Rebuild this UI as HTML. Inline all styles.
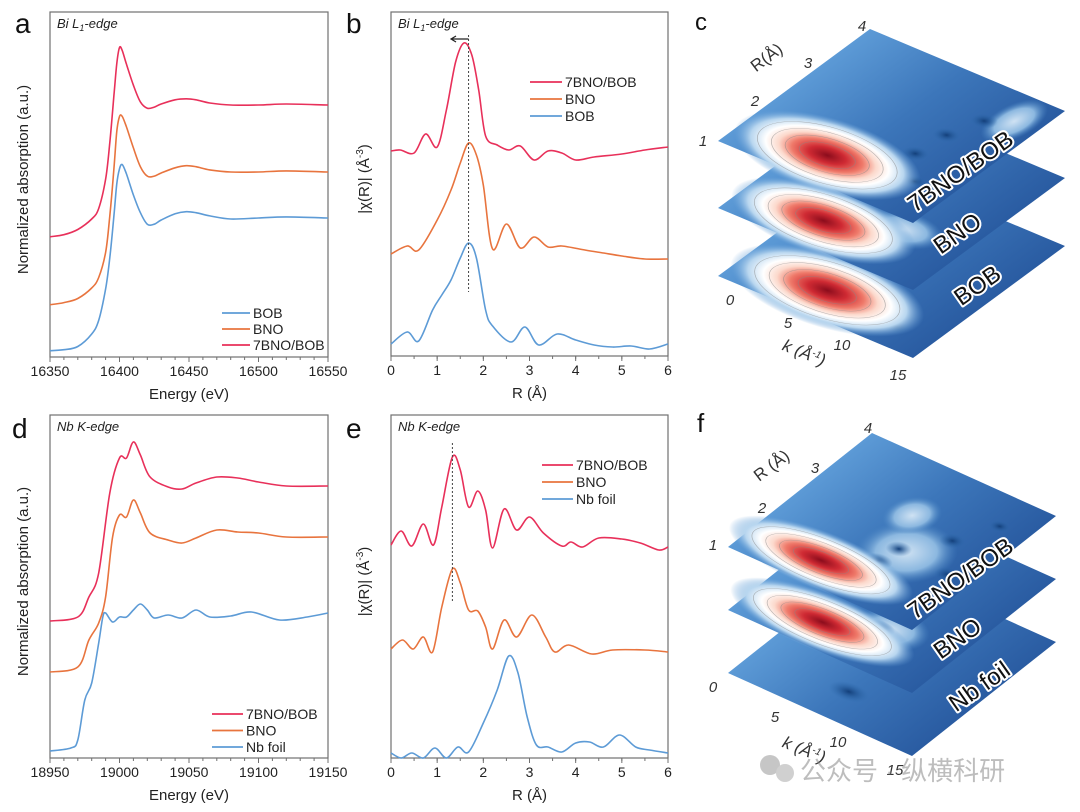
<!DOCTYPE html>
<html><head><meta charset="utf-8">
<style>
body{margin:0;background:#fff;}
svg{display:block;font-family:"Liberation Sans","Noto Sans CJK SC",sans-serif;}
.tick{font-size:14px;fill:#222;}
.lbl{font-size:28px;fill:#111;}
.ax{font-size:15px;fill:#222;}
.leg{font-size:14px;fill:#222;}
.ann{font-size:13px;font-style:italic;fill:#222;}
.pl{font-size:24px;fill:#111;stroke:#fff;stroke-width:4px;paint-order:stroke;stroke-linejoin:round;}
.tl{font-size:15px;font-style:italic;fill:#333;}
</style></head><body>
<svg id="root" width="1080" height="812" viewBox="0 0 1080 812">
<defs>
<radialGradient id="blob" cx="50%" cy="50%" r="50%">
<stop offset="0" stop-color="#8b0c1c"/><stop offset="0.2" stop-color="#cf2a33"/><stop offset="0.38" stop-color="#ef7a6a"/><stop offset="0.52" stop-color="#fcd9cc"/><stop offset="0.66" stop-color="#ffffff"/><stop offset="0.82" stop-color="#b8d6ef"/><stop offset="1" stop-color="#6aa2d8" stop-opacity="0"/>
</radialGradient>
<radialGradient id="spot" cx="50%" cy="50%" r="50%">
<stop offset="0" stop-color="#133f7a"/><stop offset="1" stop-color="#2d6aad" stop-opacity="0"/>
</radialGradient>
<radialGradient id="lite" cx="50%" cy="50%" r="50%">
<stop offset="0" stop-color="#cfe2f3"/><stop offset="0.6" stop-color="#8cb8e0"/><stop offset="1" stop-color="#4a86c4" stop-opacity="0"/>
</radialGradient>
<linearGradient id="plane" x1="0" y1="0" x2="1" y2="0">
<stop offset="0" stop-color="#5c9ad6"/><stop offset="0.5" stop-color="#3c76ba"/><stop offset="1" stop-color="#2a5ca2"/>
</linearGradient>
</defs>

<text class="lbl" x="15" y="33">a</text>
<text class="lbl" x="346" y="33">b</text>
<text class="lbl" x="695" y="30" style="font-size:24px">c</text>
<text class="lbl" x="12" y="438">d</text>
<text class="lbl" x="346" y="438">e</text>
<text class="lbl" x="697" y="432" style="font-size:26px">f</text>

<g id="gA"></g>
<g id="gB"></g>
<g id="gD"></g>
<g id="gE"></g>
<g id="gC"></g>
<g id="gF"></g>

<g opacity="0.55">
<circle cx="770" cy="765" r="10" fill="#999"/><circle cx="785" cy="773" r="9" fill="#aaa"/>
<text x="800" y="780" style="font-size:26px;fill:#888">公众号 · 纵横科研</text>
</g>
</svg>
<script>
// ---------- Panel a data ----------
const aEnergy=[16350,16360,16370,16380,16385,16390,16393,16396,16398,16400,16402,16405,16410,16415,16420,16425,16430,16440,16448,16455,16465,16480,16500,16520,16550];
const aBOB=[0.06,0.07,0.1,0.22,0.35,0.65,0.95,1.35,1.65,1.8,1.84,1.75,1.55,1.38,1.27,1.27,1.31,1.37,1.39,1.38,1.35,1.32,1.33,1.34,1.33];
const aBNO=[0.5,0.52,0.56,0.66,0.76,1.0,1.35,1.8,2.15,2.3,2.3,2.2,2.0,1.82,1.73,1.73,1.76,1.81,1.83,1.82,1.79,1.77,1.77,1.78,1.77];
const a7BNO=[1.15,1.17,1.22,1.32,1.42,1.7,2.05,2.5,2.8,2.96,2.93,2.8,2.6,2.44,2.38,2.39,2.42,2.46,2.47,2.46,2.43,2.41,2.41,2.42,2.41];
const aTicks=[16350,16400,16450,16500,16550];
// ---------- Panel b data ----------
const bR7=[0,0.2,0.5,0.75,1.0,1.2,1.4,1.58,1.75,1.9,2.05,2.3,2.55,2.8,3.1,3.4,3.7,4.0,4.4,5.0,5.5,6.0];
const b7BNO=[2.05,2.06,2.03,2.22,2.09,2.46,2.94,3.13,3.01,2.66,2.20,2.11,2.06,2.10,1.96,2.05,2.03,1.96,1.99,2.02,2.06,2.09];
const bRN=[0,0.35,0.6,1.0,1.3,1.5,1.68,1.85,2.0,2.2,2.5,2.8,3.1,3.4,3.7,4.2,4.6,5.0,5.5,6.0];
const bBNO=[1.02,1.10,1.06,1.36,1.66,1.93,2.13,2.01,1.71,1.07,1.32,1.08,1.19,1.09,1.10,1.06,1.03,1.00,0.97,0.97];
const bRB=[0,0.35,0.6,0.9,1.1,1.3,1.5,1.68,1.85,2.05,2.2,2.6,2.9,3.2,3.6,4.0,4.4,4.8,5.2,5.6,6.0];
const bBOB=[0.12,0.24,0.15,0.46,0.61,0.76,0.98,1.13,0.98,0.46,0.30,0.14,0.29,0.11,0.22,0.16,0.11,0.09,0.10,0.07,0.12];
const rTicks=[0,1,2,3,4,5,6];
// ---------- Panel d data ----------
const dE7=[18950,18970,18978,18985,18993,19000,19005,19010,19015,19022,19035,19045,19055,19070,19085,19100,19120,19150];
const d7BNO=[1.37,1.41,1.61,1.85,2.65,3.0,3.0,3.16,3.03,2.81,2.71,2.69,2.75,2.81,2.80,2.76,2.72,2.72];
const dEN=[18950,18970,18978,18985,18990,18995,19000,19005,19010,19015,19022,19035,19045,19055,19070,19085,19100,19120,19150];
const dBNO=[0.86,0.91,1.18,1.35,1.61,2.21,2.43,2.41,2.58,2.45,2.25,2.18,2.15,2.20,2.28,2.26,2.25,2.21,2.21];
const dEF=[18950,18965,18970,18975,18980,18985,18988,18990,18995,19000,19005,19010,19015,19020,19025,19035,19045,19055,19065,19080,19095,19115,19135,19150];
const dFoil=[0.07,0.10,0.18,0.58,0.75,1.15,1.41,1.45,1.36,1.41,1.41,1.48,1.54,1.48,1.40,1.43,1.40,1.48,1.41,1.42,1.46,1.38,1.41,1.45];
const dTicks=[18950,19000,19050,19100,19150];
// ---------- Panel e data ----------
const eR7=[0,0.22,0.45,0.7,0.92,1.1,1.33,1.5,1.68,1.88,2.05,2.2,2.45,2.72,3.0,3.3,3.7,3.9,4.15,4.5,5.0,5.4,5.8,6.0];
const e7BNO=[2.13,2.27,2.12,2.34,2.13,2.51,3.01,2.88,2.51,2.67,2.48,2.10,2.49,2.28,2.41,2.25,2.12,2.16,2.11,2.20,2.19,2.15,2.08,2.11];
const eRN=[0,0.25,0.48,0.7,0.9,1.1,1.33,1.5,1.68,1.88,2.05,2.2,2.45,2.72,3.05,3.35,3.55,3.85,4.35,4.8,5.5,6.0];
const eBNO=[1.09,1.18,1.09,1.21,1.06,1.51,1.89,1.75,1.48,1.47,1.31,1.09,1.38,1.21,1.43,1.21,1.06,1.13,1.04,1.08,1.08,1.06];
const eRF=[0,0.22,0.45,0.7,0.95,1.2,1.45,1.68,2.0,2.3,2.55,2.75,2.95,3.15,3.4,3.7,4.0,4.3,4.6,4.95,5.3,5.6,6.0];
const eFoil=[0.05,0,0.05,0,0.10,0,0.11,0.06,0.35,0.68,1.02,0.85,0.41,0.13,0.11,0.06,0.15,0.16,0.11,0.23,0.11,0.08,0.05];

const NS="http://www.w3.org/2000/svg";
const RED="#e8305a",ORG="#e8743e",BLU="#5d9bd6";
function mk(p,tag,at){const e=document.createElementNS(NS,tag);for(const k in at)e.setAttribute(k,at[k]);p.appendChild(e);return e;}
function smooth(pts){let d="M"+pts[0][0].toFixed(1)+","+pts[0][1].toFixed(1);
 for(let i=0;i<pts.length-1;i++){const p0=pts[Math.max(0,i-1)],p1=pts[i],p2=pts[i+1],p3=pts[Math.min(pts.length-1,i+2)];
  const c1=[p1[0]+(p2[0]-p0[0])/6,p1[1]+(p2[1]-p0[1])/6],c2=[p2[0]-(p3[0]-p1[0])/6,p2[1]-(p3[1]-p1[1])/6];
  d+=" C"+c1[0].toFixed(1)+","+c1[1].toFixed(1)+" "+c2[0].toFixed(1)+","+c2[1].toFixed(1)+" "+p2[0].toFixed(1)+","+p2[1].toFixed(1);}
 return d;}

function panel(g,box,xd,yd,ticks,minorStep,xtitle,ytitle,series,legend,ann){
 const [L,T,R,B]=box;
 const sx=v=>L+(v-xd[0])/(xd[1]-xd[0])*(R-L);
 const sy=v=>B-(v-yd[0])/(yd[1]-yd[0])*(B-T);
 const fr=mk(g,"rect",{x:L,y:T,width:R-L,height:B-T,fill:"none",stroke:"#707070","stroke-width":1.2});
 
 
 for(let v=xd[0];v<=xd[1]+1e-9;v+=minorStep){const x=sx(v);mk(g,"line",{x1:x,x2:x,y1:B,y2:B+3,stroke:"#707070"});}
 ticks.forEach(t=>{const x=sx(t);mk(g,"line",{x1:x,x2:x,y1:B,y2:B+5,stroke:"#707070"});
  const tx=mk(g,"text",{x:x,y:B+19,"text-anchor":"middle",class:"tick"});tx.textContent=t;
  
  });
 const xt=mk(g,"text",{x:(L+R)/2,y:B+42,"text-anchor":"middle",class:"ax"});xt.textContent=xtitle;
 
 
 const yt=mk(g,"text",{x:0,y:0,"text-anchor":"middle",class:"ax",transform:`translate(${L-22},${(T+B)/2-5}) rotate(-90)`});yt.innerHTML=ytitle;
 
 
 const an=mk(g,"text",{x:L+7,y:T+16,class:"ann"});an.innerHTML=ann;
 
 
 series.forEach(s=>{const pts=s.x.map((v,i)=>[sx(v),sy(s.y[i])]);
  const p=mk(g,"path",{d:smooth(pts),fill:"none",stroke:s.c,"stroke-width":1.6});
  
  });
 legend.items.forEach((it,i)=>{const y=legend.y+i*legend.dy;
  const ln=mk(g,"line",{x1:legend.x,x2:legend.x+legend.w,y1:y,y2:y,stroke:it.c,"stroke-width":1.8});
  
  
  const t=mk(g,"text",{x:legend.x+legend.w+3,y:y+5,class:"leg"});t.textContent=it.t;
  
  });
 return {sx,sy};
}
const gA=document.getElementById("gA"),gB=document.getElementById("gB"),gD=document.getElementById("gD"),gE=document.getElementById("gE");
panel(gA,[50,12,328,357],[16350,16550],[0,3.3],aTicks,10,"Energy (eV)","Normalized absorption (a.u.)",
 [{x:aEnergy,y:aBOB,c:BLU,n:"line-bob"},{x:aEnergy,y:aBNO,c:ORG,n:"line-bno"},{x:aEnergy,y:a7BNO,c:RED,n:"line-7bno-bob"}],
 {x:222,y:313,dy:16,w:28,items:[{t:"BOB",c:BLU},{t:"BNO",c:ORG},{t:"7BNO/BOB",c:RED}]},
 'Bi L<tspan style="font-size:9px" dy="3">1</tspan><tspan dy="-3">-edge</tspan>');
const pb=panel(gB,[391,12,668,356],[0,6],[0,3.44],rTicks,0.5,"R (Å)","|χ(R)| (Å<tspan style='font-size:10px' dy='-6'>-3</tspan><tspan dy='6'>)</tspan>",
 [{x:bR7,y:b7BNO,c:RED,n:"line-7bno-bob"},{x:bRN,y:bBNO,c:ORG,n:"line-bno"},{x:bRB,y:bBOB,c:BLU,n:"line-bob"}],
 {x:530,y:82,dy:17,w:32,items:[{t:"7BNO/BOB",c:RED},{t:"BNO",c:ORG},{t:"BOB",c:BLU}]},
 'Bi L<tspan style="font-size:9px" dy="3">1</tspan><tspan dy="-3">-edge</tspan>');
{const x=pb.sx(1.68);const l=mk(gB,"line",{x1:x,x2:x,y1:35,y2:292,stroke:"#444","stroke-dasharray":"2,2"});
 
 
 const a=mk(gB,"path",{d:`M${x},39 L${pb.sx(1.3)},39 M${pb.sx(1.3)+5},36 L${pb.sx(1.3)},39 L${pb.sx(1.3)+5},42`,stroke:"#222",fill:"none","stroke-width":1.2});
 
 }
panel(gD,[50,415,328,758],[18950,19150],[0,3.43],dTicks,10,"Energy (eV)","Normalized absorption (a.u.)",
 [{x:dEF,y:dFoil,c:BLU,n:"line-nb-foil"},{x:dEN,y:dBNO,c:ORG,n:"line-bno"},{x:dE7,y:d7BNO,c:RED,n:"line-7bno-bob"}],
 {x:212,y:714,dy:16.5,w:31,items:[{t:"7BNO/BOB",c:RED},{t:"BNO",c:ORG},{t:"Nb foil",c:BLU}]},
 'Nb K-edge');
const pe=panel(gE,[391,415,668,758],[0,6],[0,3.43],rTicks,0.5,"R (Å)","|χ(R)| (Å<tspan style='font-size:10px' dy='-6'>-3</tspan><tspan dy='6'>)</tspan>",
 [{x:eR7,y:e7BNO,c:RED,n:"line-7bno-bob"},{x:eRN,y:eBNO,c:ORG,n:"line-bno"},{x:eRF,y:eFoil,c:BLU,n:"line-nb-foil"}],
 {x:542,y:465,dy:17,w:31,items:[{t:"7BNO/BOB",c:RED},{t:"BNO",c:ORG},{t:"Nb foil",c:BLU}]},
 'Nb K-edge');
{const x=pe.sx(1.33);const l=mk(gE,"line",{x1:x,x2:x,y1:443,y2:603,stroke:"#444","stroke-dasharray":"2,2"});
 
 }

// ---------- wavelet panels ----------
function wavelet(g,L,ku,rv,offs,names,labelPos,blobs,spots,lites,axis){
 for(let i=offs.length-1;i>=0;i--){
  const gg=mk(g,"g",{transform:`matrix(${ku[0]/100},${ku[1]/100},${rv[0]/100},${rv[1]/100},${L[0]},${L[1]+offs[i]})`});
  
  
  mk(gg,"rect",{x:0,y:0,width:100,height:100,fill:"url(#plane)"});
  (lites[i]||[]).forEach(b=>mk(gg,"ellipse",{cx:b[0],cy:b[1],rx:b[2],ry:b[3],fill:"url(#lite)"}));
  (spots[i]||[]).forEach(b=>mk(gg,"ellipse",{cx:b[0],cy:b[1],rx:b[2],ry:b[3],fill:"url(#spot)"}));
  if(blobs[i]){const b=blobs[i];mk(gg,"ellipse",{cx:b[0],cy:b[1],rx:b[2],ry:b[3],fill:"url(#blob)"});
   [0.3,0.45,0.6,0.75].forEach(f=>mk(gg,"ellipse",{cx:b[0],cy:b[1],rx:b[2]*f,ry:b[3]*f,fill:"none",stroke:"#888","stroke-width":0.3,opacity:0.6}));}
  const p=labelPos[i];const t=mk(g,"text",{x:p[0],y:p[1],"text-anchor":"middle",class:"pl",transform:`rotate(-35 ${p[0]} ${p[1]})`});
  t.textContent=names[i];
  
  
 }
 axis.r.forEach(a=>{const t=mk(g,"text",{x:a[0],y:a[1],class:"tl","text-anchor":"middle"});t.textContent=a[2];
  
  });
 axis.k.forEach(a=>{const t=mk(g,"text",{x:a[0],y:a[1],class:"tl","text-anchor":"middle"});t.textContent=a[2];
  
  });
 const rt=mk(g,"text",{x:axis.rt[0],y:axis.rt[1],class:"tl","text-anchor":"middle",style:"font-size:17px;font-style:normal",transform:`rotate(-37 ${axis.rt[0]} ${axis.rt[1]})`});rt.textContent=axis.rt[2];
 
 
 const kt=mk(g,"text",{x:axis.kt[0],y:axis.kt[1],class:"tl","text-anchor":"middle",style:"font-size:17px",transform:`rotate(22 ${axis.kt[0]} ${axis.kt[1]})`});kt.innerHTML=axis.kt[2];
 
 
}
const gC=document.getElementById("gC"),gF=document.getElementById("gF");
wavelet(gC,[718,141],[195,82],[152,-112],[0,67,135],["7BNO/BOB","BNO","BOB"],
 [[965,178],[962,240],[982,292]],
 [[42,18,44,24],[40,18,44,22],[42,18,46,24]],
 [[[70,40,6,5],[72,58,6,5],[78,75,6,5],[82,24,5,4]],[[55,28,8,5]],[[80,14,6,5]]],
 [[[88,82,10,18]],[[70,32,18,12]],[]],
 {r:[[703,146,"1"],[755,106,"2"],[808,68,"3"],[862,31,"4"]],k:[[730,305,"0"],[788,328,"5"],[842,350,"10"],[898,380,"15"]],
  rt:[770,62,"R(Å)"],kt:[802,358,'k (Å<tspan style="font-size:10px" dy="-6">-1</tspan><tspan dy="6">)</tspan>']});
wavelet(gF,[728,547],[184,83],[144,-114],[0,63,126],["7BNO/BOB","BNO","Nb foil"],
 [[965,585],[962,645],[984,693]],
 [[38,16,48,18],[38,17,48,18],null],
 [[[58,30,7,5],[60,42,6,5],[75,60,6,5],[88,40,6,5],[85,80,5,4]],[[60,28,8,5]],[[50,20,10,6]]],
 [[[64,42,22,22],[50,64,12,14]],[[65,30,18,14]],[]],
 {r:[[713,550,"1"],[762,513,"2"],[815,473,"3"],[868,433,"4"]],k:[[713,692,"0"],[775,722,"5"],[838,747,"10"],[895,775,"15"]],
  rt:[775,470,"R (Å)"],kt:[802,755,'k (Å<tspan style="font-size:10px" dy="-6">-1</tspan><tspan dy="6">)</tspan>']});
</script>
</body></html>
